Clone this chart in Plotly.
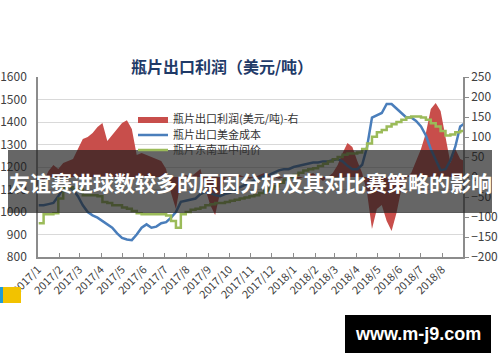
import plotly.graph_objects as go
import pandas as pd

# weekly observation dates
dates = pd.date_range("2017-01-02", periods=88, freq="7D")

# 瓶片出口美金成本 (left axis, USD/t)
cost = [1030, 1030, 1035, 1040, 1070, 1105, 1115, 1100, 1070, 1030,
        1000, 985, 975, 960, 945, 930, 905, 885, 878, 875,
        900, 930, 945, 930, 935, 950, 955, 975, 1000, 1045,
        1050, 1055, 1060, 1080, 1090, 1085, 1075, 1070, 1080, 1085,
        1095, 1110, 1120, 1130, 1140, 1150, 1160, 1165, 1175, 1185,
        1190, 1190, 1200, 1205, 1210, 1215, 1220, 1220, 1225, 1225,
        1230, 1235, 1225, 1205, 1190, 1190, 1210, 1290, 1420, 1430,
        1440, 1480, 1480, 1460, 1440, 1420, 1420, 1405, 1380, 1340,
        1280, 1230, 1185, 1190, 1230, 1290, 1380, 1395]

# 瓶片东南亚中间价 (left axis, USD/t)
sea_price = [950, 990, 990, 995, 1060, 1110, 1110, 1100, 1100, 1075,
             1075, 1075, 1070, 1045, 1040, 1030, 1030, 1020, 1015, 1005,
             995, 990, 990, 990, 990, 990, 985, 960, 930, 990,
             1000, 1010, 1015, 1020, 1030, 1035, 1040, 1040, 1045, 1050,
             1055, 1060, 1065, 1070, 1075, 1085, 1095, 1105, 1115, 1130,
             1145, 1155, 1165, 1175, 1185, 1190, 1195, 1205, 1215, 1225,
             1235, 1245, 1255, 1260, 1260, 1265, 1280, 1305, 1335, 1355,
             1365, 1380, 1390, 1400, 1410, 1420, 1425, 1425, 1420, 1410,
             1395, 1380, 1360, 1340, 1345, 1355, 1360, 1365]

# 瓶片出口利润(美元/吨) (right axis)
profit = [5, -10, 15, 30, 20, 35, 40, 45, 70, 95,
          100, 110, 125, 135, 90, 105, 120, 135, 142, 120,
          55, 60, 55, 50, 45, 40, 20, -40, -80, -10,
          5, 0, 10, 20, -30, -70, -95, -40, -5, 5,
          0, 5, 0, -5, 0, 5, 10, 5, 0, -5,
          0, 5, 0, -5, 0, 5, 10, 0, -10, 0,
          10, 30, 60, 85, 75, 40, 10, -40, -130, -80,
          -70, -110, -135, -90, -30, 0, 10, 40, 70, 110,
          170, 185, 165, 100, 35, 70, 45, 40]

month_ticks = pd.date_range("2017-01-01", "2018-08-01", freq="MS")
left_ticks = [800, 900, 1000, 1100, 1200, 1300, 1400, 1500, 1600]
right_ticks = [-200, -150, -100, -50, 0, 50, 100, 150, 200, 250]

title_text = "瓶片出口利润（美元/吨）"
banner_text = "友谊赛进球数较多的原因分析及其对比赛策略的影响"
watermark_text = "www.m-j9.com"
names = ["瓶片出口利润(美元/吨)-右", "瓶片出口美金成本", "瓶片东南亚中间价"]

FONT = "Noto Sans CJK SC, Noto Sans, sans-serif"
AX = "#8c8c8c"
TXT = "#404040"

PL, PR, PT, PB = 38, 463, 77, 257  # plot area in pixels
PW, PH = PR - PL, PB - PT


def px(x):
    return (x - PL) / PW


def py(y):
    return (PB - y) / PH


fig = go.Figure()
fig.add_trace(go.Scatter(x=dates, y=profit, name=names[0], yaxis="y", legend="legend",
                         mode="lines", line=dict(width=0, color="#C0504D"),
                         fill="tozeroy", fillcolor="#C84E4B"))
fig.add_trace(go.Scatter(x=dates, y=cost, name=names[1], yaxis="y2", legend="legend2",
                         mode="lines", line=dict(width=2.5, color="#4A7EBB")))
fig.add_trace(go.Scatter(x=dates, y=sea_price, name=names[2], yaxis="y2", legend="legend3",
                         mode="lines", line=dict(width=2.5, color="#9BBB59", shape="hv")))

leg_common = dict(xanchor="left", yanchor="middle", bgcolor="rgba(0,0,0,0)",
                  font=dict(size=11, color="#333333", family=FONT), itemwidth=30)

fig.update_layout(
    width=500, height=362,
    margin=dict(l=PL, r=500 - PR, t=PT, b=362 - PB, autoexpand=False),
    paper_bgcolor="white", plot_bgcolor="white",
    font=dict(family=FONT, size=12, color=TXT),
    showlegend=True,
    legend=dict(x=px(133), y=py(119), **leg_common),
    legend2=dict(x=px(133), y=py(135), **leg_common),
    legend3=dict(x=px(133), y=py(150), **leg_common),
    title=dict(text=title_text, x=222 / 500, xanchor="center", y=1 - 67 / 362, yanchor="middle",
               font=dict(size=16, color="#1F3A68", family=FONT, weight="bold")),
    xaxis=dict(type="date", range=["2017-01-01", "2018-08-31"],
               tickvals=month_ticks, tickformat="%Y/%-m",
               tickangle=-45, ticks="inside", ticklen=4, tickcolor=AX,
               showline=True, linecolor=AX, linewidth=1.5, showgrid=False,
               tickfont=dict(size=11, color=TXT), zeroline=False, automargin=False),
    yaxis=dict(side="right", range=[-200, 250], tickvals=right_ticks,
               showgrid=False, zeroline=False, showline=True, linecolor=AX,
               linewidth=1.5, ticks="outside", ticklen=4, tickcolor=AX,
               tickfont=dict(size=12, color=TXT), automargin=False),
    yaxis2=dict(side="left", overlaying="y", range=[800, 1600], tickvals=left_ticks,
                showgrid=True, gridcolor="#d9d9d9", gridwidth=1, zeroline=False,
                showline=True, linecolor=AX, linewidth=1.5,
                ticks="", ticklabelstandoff=7, tickfont=dict(size=12, color=TXT),
                automargin=False),
)

# dark banner overlay with white headline
fig.add_shape(type="rect", xref="paper", yref="paper", layer="above",
              x0=px(8), x1=px(492), y0=py(213), y1=py(150),
              fillcolor="rgba(30,30,30,0.68)", line=dict(width=0))
fig.add_annotation(text=banner_text, xref="paper", yref="paper",
                   x=px(250), y=py(182), xanchor="center", yanchor="middle", showarrow=False,
                   font=dict(size=21, color="white", family=FONT, weight="bold"))

# watermark box
fig.add_shape(type="rect", xref="paper", yref="paper", layer="above",
              x0=px(345), x1=px(491), y0=py(353), y1=py(315),
              fillcolor="black", line=dict(width=0))
fig.add_annotation(text=watermark_text, xref="paper", yref="paper",
                   x=px(418), y=py(334), xanchor="center", yanchor="middle", showarrow=False,
                   font=dict(size=18, color="white", family="Liberation Sans, Arial, sans-serif",
                             weight="bold"))

# small coloured artefact bottom-left
fig.add_shape(type="rect", xref="paper", yref="paper", layer="above",
              x0=px(0), x1=px(3), y0=py(303), y1=py(287),
              fillcolor="#1E9BD7", line=dict(width=0))
fig.add_shape(type="rect", xref="paper", yref="paper", layer="above",
              x0=px(3), x1=px(21), y0=py(303), y1=py(287),
              fillcolor="#F2C200", line=dict(width=0))

fig.write_html("out.html")
